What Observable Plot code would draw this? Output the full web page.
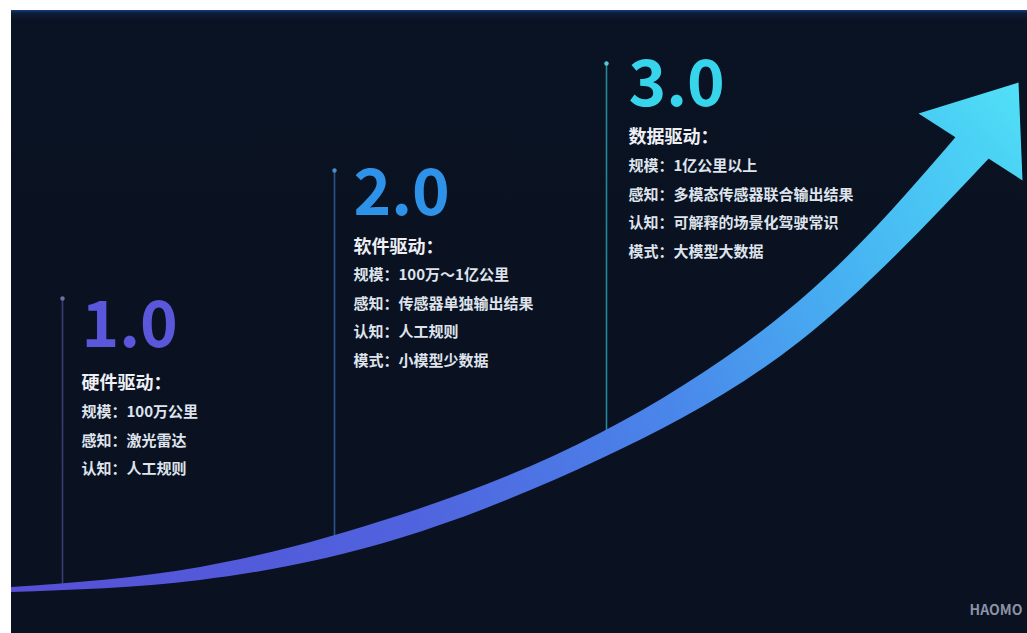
<!DOCTYPE html>
<html><head><meta charset="utf-8">
<script src="https://cdn.jsdelivr.net/npm/d3@7"></script>
<script src="https://cdn.jsdelivr.net/npm/@observablehq/plot@0.6"></script>
<style>
html,body{margin:0;padding:0;background:#fff;}
#frame{position:absolute;left:11px;top:10px;width:1016px;height:623px;overflow:hidden;
background:linear-gradient(to bottom,#14407e 0px,#0d1d3a 3px,#0a1323 10px,#0a1120 100%);}
#frame svg{display:block;}
</style></head><body><div id="frame"></div>
<script>
// ---- data ----
const stages = ["1.0", "2.0", "3.0"];
const drivers = ["硬件驱动：", "软件驱动：", "数据驱动："];
const scaleLines = ["规模：100万公里", "规模：100万～1亿公里", "规模：1亿公里以上"];
const perceptionLines = ["感知：激光雷达", "感知：传感器单独输出结果", "感知：多模态传感器联合输出结果"];
const cognitionLines = ["认知：人工规则", "认知：人工规则", "认知：可解释的场景化驾驶常识"];
const modeLines = [null, "模式：小模型少数据", "模式：大模型大数据"];
const brand = ["HAOMO"];

// growth ribbon (upper / lower edges) and arrow head
const ribbonUpperX = [11, 200, 400, 600, 800, 959];
const ribbonUpperY = [587, 567, 515, 433, 300, 133];
const ribbonLowerX = [11, 200, 400, 600, 800, 992];
const ribbonLowerY = [592, 580, 538, 459, 341, 155];
const headX = [918, 1018, 1022];
const headY = [113, 82, 180];

// milestone guide lines
const milestoneX = [62, 334, 606];
const milestoneTop = [298, 170, 63];
const milestoneBottom = [586, 539, 432];

// ---- layout / style ----
const layout = {
  textX: [81, 353, 628],
  numberBaseline: [346, 214, 105],
  headingY: [383, 247, 137],
  detailY0: [412, 275, 166],
  detailGap: 28.5
};
const numberColors = ["#5b57da", "#2e93e8", "#36d5eb"];
const lineColors = ["#3f4277", "#2c5e95", "#2b95a4"];
const dotColors = ["#6c6fa8", "#4d8bc8", "#56c9d6"];
const font = "'Noto Sans CJK SC', 'Noto Sans', sans-serif";

const idx = stages.map((_, i) => i);
const ribbonIdx = ribbonUpperX.map((_, i) => i);
const headIdx = headX.map((_, i) => i);

const details = [];
idx.forEach(i => {
  [scaleLines[i], perceptionLines[i], cognitionLines[i], modeLines[i]].forEach((t, k) => {
    if (t) details.push({stage: i, k, text: t});
  });
});

function gradients(index, scales) {
  const ns = "http://www.w3.org/2000/svg";
  const defs = document.createElementNS(ns, "defs");
  const x = scales.x, y = scales.y;
  defs.innerHTML =
    `<linearGradient id="rib" gradientUnits="userSpaceOnUse" x1="${x(11)}" y1="${y(590)}" x2="${x(1010)}" y2="${y(90)}">
      <stop offset="0" stop-color="#5650d6"/>
      <stop offset="0.35" stop-color="#5063de"/>
      <stop offset="0.6" stop-color="#4a86ea"/>
      <stop offset="0.8" stop-color="#47b3f2"/>
      <stop offset="1" stop-color="#4ddcf6"/>
    </linearGradient>
    <linearGradient id="head" gradientUnits="userSpaceOnUse" x1="${x(930)}" y1="${y(170)}" x2="${x(1020)}" y2="${y(85)}">
      <stop offset="0" stop-color="#45c7f2"/>
      <stop offset="1" stop-color="#52e0f7"/>
    </linearGradient>`;
  return defs;
}

const chart = Plot.plot({
  width: 1016,
  height: 623,
  margin: 0,
  style: {background: "transparent", overflow: "visible"},
  x: {domain: [11, 1027], axis: null},
  y: {domain: [10, 633], reverse: true, axis: null},
  marks: [
    gradients,
    Plot.ruleX(idx, {
      x: i => milestoneX[i], y1: i => milestoneTop[i], y2: i => milestoneBottom[i],
      stroke: i => lineColors[i], strokeWidth: 1.6, strokeOpacity: 0.9
    }),
    Plot.dot(idx, {
      x: i => milestoneX[i], y: i => milestoneTop[i], r: 2.2,
      fill: i => dotColors[i], stroke: "none"
    }),
    Plot.area(ribbonIdx, {
      x1: ribbonLowerX, y1: ribbonLowerY, x2: ribbonUpperX, y2: ribbonUpperY,
      curve: "natural", fill: "url(#rib)"
    }),
    Plot.line(headIdx, {
      x: headX, y: headY, curve: "linear-closed",
      fill: "url(#head)", stroke: "none"
    }),
    Plot.text(idx, {
      x: i => layout.textX[i], y: i => layout.numberBaseline[i], text: i => stages[i],
      textAnchor: "start", lineAnchor: "bottom", fontSize: 64, fontWeight: 700,
      fontFamily: font, fill: i => numberColors[i]
    }),
    Plot.text(idx, {
      x: i => layout.textX[i], y: i => layout.headingY[i], text: i => drivers[i],
      textAnchor: "start", lineAnchor: "middle", fontSize: 18, fontWeight: 700,
      fontFamily: font, fill: "#eef0f5"
    }),
    Plot.text(details, {
      x: d => layout.textX[d.stage], y: d => layout.detailY0[d.stage] + d.k * layout.detailGap,
      text: "text", textAnchor: "start", lineAnchor: "middle", fontSize: 15, fontWeight: 700,
      fontFamily: font, fill: "#dfe3ec"
    }),
    Plot.text(brand, {
      x: () => 1022, y: () => 610, text: d => d, textAnchor: "end", lineAnchor: "middle",
      fontSize: 14, fontWeight: 700, fontFamily: font, fill: "#8a93a6", letterSpacing: 1.5
    })
  ]
});
document.getElementById("frame").appendChild(chart);
</script>
</body></html>
